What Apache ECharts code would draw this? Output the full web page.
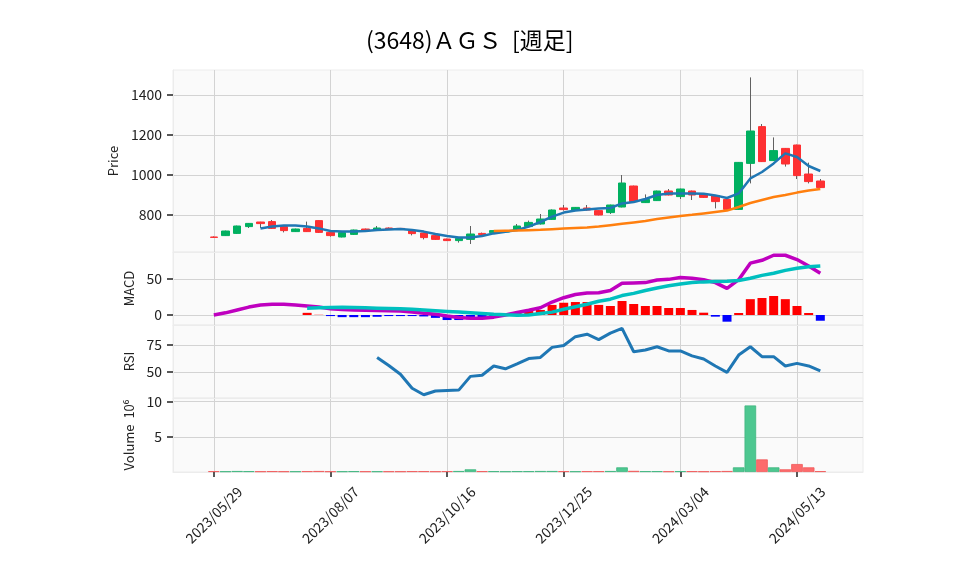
<!DOCTYPE html>
<html><head><meta charset="utf-8">
<script src="https://cdn.jsdelivr.net/npm/echarts@6/dist/echarts.min.js"></script>
<style>html,body{margin:0;padding:0;background:#fff}#c{width:958px;height:575px}</style>
</head><body><div id="c"></div>
<script>
// ---- data (weekly, index 0 = 2023/05/29) ----
const tickIdx = [0, 10, 20, 30, 40, 50];
const tickLabels = ["2023/05/29", "2023/08/07", "2023/10/16", "2023/12/25", "2024/03/04", "2024/05/13"];

const openP  = [690,697,708,742,765,767,742,717,733,772,713,690,703,730,725,735,733,720,710,697,680,672,678,708,712,715,725,742,755,778,835,825,835,822,812,840,945,862,872,920,892,920,905,897,878,828,1058,1242,1072,1133,1150,1005,970];
const closeP = [688,720,745,758,757,733,722,730,717,713,697,712,725,725,735,728,728,707,687,678,672,683,705,702,722,719,745,763,780,825,827,838,825,800,850,960,867,878,920,900,930,900,888,867,828,1063,1220,1067,1122,1055,997,967,937];
const lowP   = [685,695,706,735,735,730,713,715,715,710,692,688,700,723,723,726,726,698,678,676,670,662,655,700,710,712,723,740,752,776,822,823,822,798,805,838,865,860,870,898,880,875,886,833,826,826,958,1065,1070,1042,980,958,935];
const highP  = [693,722,747,760,766,775,744,732,767,773,715,714,727,732,745,738,735,722,712,699,682,685,745,712,724,722,755,772,805,828,850,840,850,824,852,1000,947,903,922,930,932,922,907,899,880,1065,1488,1255,1188,1135,1152,1062,980];

const maShort = [null,null,null,null,733,742,747,747,742,733,720,717,717,720,725,728,730,725,717,705,695,688,687,695,708,716,725,742,765,792,812,822,828,832,835,858,865,880,900,908,908,908,906,898,885,908,983,1015,1058,1108,1090,1045,1020];
const maLong  = [null,null,null,null,null,null,null,null,null,null,null,null,null,null,null,null,null,null,null,null,null,null,null,null,720,721,722,724,726,729,732,735,738,742,749,756,763,770,780,788,795,801,808,815,822,840,860,875,890,900,912,922,930];

const macdLine = [0,3,7,11,14,15,14.8,14,12.5,11,8.5,7.5,7,6.5,6.3,6,5.5,4,2.5,1,-1.5,-3.5,-4.5,-4.5,-3,0,3.5,6.5,10,18,24,28.5,30.5,31,34,44,44.5,45,48.5,49.5,52,51,49,45,37,49,72,76,83,83,77,68,58];
const signalLine = [null,null,null,null,null,null,null,null,9.5,10,10.5,10.7,10.5,10,9.5,9,8.5,8,7,6,5,4,3,2,1,0.2,-0.5,0,2,4,8,11.5,15,19,22,27,30,34,37.5,40.5,43,45,46,46.5,47,48,51,55,58,62,65,67,68];
const histVals = [null,null,null,null,null,null,null,null,3,0.3,-1.5,-3,-3,-3,-2.5,-1.5,-1.5,-1.5,-2,-4,-7,-7,-6,-5,-3.5,-1,3,5.5,7,14,17,18,18,14,12.5,19.4,15.3,12.5,12.5,9.7,9.7,7,3.2,-2.3,-9.3,2.8,22,23.6,26.4,22,12.5,2.8,-8];

const rsiVals = [null,null,null,null,null,null,null,null,null,null,null,null,null,null,63.5,56,48,35,29,32.5,33,33.3,46,47,55.6,53,57.5,62.5,63.5,72.8,74.5,82.7,85,80,86,90.4,68.8,70.4,73.4,69.5,69.5,65,62,55.6,49.7,65.7,73.4,64.2,64.2,55.6,58,55.6,51];

const volumeVals = [0.12,0.1,0.14,0.12,0.1,0.12,0.1,0.1,0.12,0.14,0.1,0.1,0.12,0.1,0.1,0.1,0.1,0.12,0.12,0.1,0.12,0.14,0.38,0.12,0.12,0.1,0.12,0.12,0.14,0.14,0.12,0.1,0.12,0.12,0.14,0.66,0.16,0.12,0.12,0.1,0.12,0.12,0.1,0.12,0.14,0.66,9.44,1.79,0.66,0.38,1.13,0.66,0.12];

// ---- chart ----
const FONT = "'Noto Sans CJK JP', 'Noto Sans', sans-serif";
const GRID_L = 173, GRID_W = 690;
const panels = [
  {top: 70, height: 182},
  {top: 252, height: 73},
  {top: 325, height: 73},
  {top: 398, height: 74}
];
const grids = panels.map(p => ({left: GRID_L, width: GRID_W, top: p.top, height: p.height,
  show: true, backgroundColor: '#fafafa', borderColor: '#ececec', borderWidth: 1}));

const splitStyle = {show: true, lineStyle: {color: '#d3d3d3', width: 1}};
const tickStyle = {color: '#222222', width: 1.5};
const xAxes = panels.map((p, k) => ({
  type: 'value', gridIndex: k, min: -3.5, max: 55.66,
  axisLine: {show: true, onZero: false, lineStyle: {color: '#ececec'}},
  splitLine: splitStyle,
  axisTick: {show: k === 3, customValues: tickIdx, length: 5, lineStyle: tickStyle},
  axisLabel: {show: k === 3, customValues: tickIdx, rotate: 45, align: 'center', verticalAlign: 'middle', margin: 43,
    fontSize: 14, color: '#222', fontFamily: FONT,
    formatter: v => { const j = tickIdx.indexOf(Math.round(v)); return j >= 0 ? tickLabels[j] : ''; }}
}));

function yAx(k, min, max, ticks, name, gap, fmt) {
  return {
    type: 'value', gridIndex: k, min: min, max: max,
    name: name, nameLocation: 'middle', nameGap: gap, nameRotate: 90,
    nameTextStyle: {fontSize: 13, color: '#222', fontFamily: FONT},
    axisLine: {show: true, onZero: false, lineStyle: {color: '#ececec'}},
    splitLine: splitStyle,
    axisTick: {show: true, customValues: ticks, length: 6, lineStyle: tickStyle},
    axisLabel: {customValues: ticks, margin: 11, fontSize: 14, color: '#222', fontFamily: FONT,
      formatter: fmt || (v => String(v))}
  };
}
const yAxes = [
  yAx(0, 615, 1525, [800, 1000, 1200, 1400], 'Price', 48),
  yAx(1, -13.9, 87.5, [0, 50], 'MACD', 30),
  yAx(2, 26, 93.5, [50, 75], 'RSI', 30),
  yAx(3, 0, 10.5e6, [5e6, 10e6], 'Volume  10⁶', 33, v => String(Math.round(v / 1e6)))
];

const n = openP.length;
const idx = Array.from({length: n}, (_, i) => i);
const wickData = idx.map(i => [i, openP[i], closeP[i], lowP[i], highP[i]]);
const bodyData = idx.map(i => [i, openP[i], closeP[i], Math.min(openP[i], closeP[i]), Math.max(openP[i], closeP[i])]);
const pairs = arr => idx.filter(i => arr[i] != null).map(i => [i, arr[i]]);

const UP = '#00b060', DOWN = '#fe3032';
const series = [
  {type: 'candlestick', xAxisIndex: 0, yAxisIndex: 0, data: wickData, encode: {x: 0, y: [1, 2, 3, 4]},
   barWidth: 1, itemStyle: {color: '#606060', color0: '#606060', borderColor: '#606060', borderColor0: '#606060', borderWidth: 1}},
  {type: 'candlestick', xAxisIndex: 0, yAxisIndex: 0, data: bodyData, encode: {x: 0, y: [1, 2, 3, 4]},
   barWidth: 8, itemStyle: {color: UP, color0: DOWN, borderColor: UP, borderColor0: DOWN, borderWidth: 1}},
  {type: 'line', xAxisIndex: 0, yAxisIndex: 0, data: pairs(maShort), symbol: 'none',
   lineStyle: {color: '#1f77b4', width: 2.5}, z: 5},
  {type: 'line', xAxisIndex: 0, yAxisIndex: 0, data: pairs(maLong), symbol: 'none',
   lineStyle: {color: '#ff7f0e', width: 2.5}, z: 5},
  {type: 'bar', xAxisIndex: 1, yAxisIndex: 1, barWidth: 9,
   data: idx.filter(i => histVals[i] != null).map(i => ({value: [i, histVals[i]],
     itemStyle: {color: histVals[i] >= 0 ? '#ff0000' : '#0000ff'}}))},
  {type: 'line', xAxisIndex: 1, yAxisIndex: 1, data: pairs(macdLine), symbol: 'none',
   lineStyle: {color: '#bf00bf', width: 3.5}, z: 5},
  {type: 'line', xAxisIndex: 1, yAxisIndex: 1, data: pairs(signalLine), symbol: 'none',
   lineStyle: {color: '#00bfbf', width: 3.5}, z: 6},
  {type: 'line', xAxisIndex: 2, yAxisIndex: 2, data: pairs(rsiVals), symbol: 'none',
   lineStyle: {color: '#1f77b4', width: 3}, z: 5},
  {type: 'bar', xAxisIndex: 3, yAxisIndex: 3, barWidth: 11.6,
   data: idx.map(i => {
     const up = closeP[i] >= openP[i];
     return {value: [i, volumeVals[i] * 1e6],
       itemStyle: {color: up ? '#4dc790' : '#fd6b6c', borderColor: up ? '#3fb57f' : '#f05a5b', borderWidth: 0.8}};
   })}
];

const chart = echarts.init(document.getElementById('c'), null, {renderer: 'canvas'});
chart.setOption({
  animation: false,
  backgroundColor: '#ffffff',
  title: {text: '(3648)ＡＧＳ  [週足]', left: 366, top: 29, padding: 0,
    textStyle: {fontSize: 23, fontWeight: 'normal', color: '#000', fontFamily: FONT}},
  grid: grids,
  xAxis: xAxes,
  yAxis: yAxes,
  series: series
});
</script>
</body></html>
